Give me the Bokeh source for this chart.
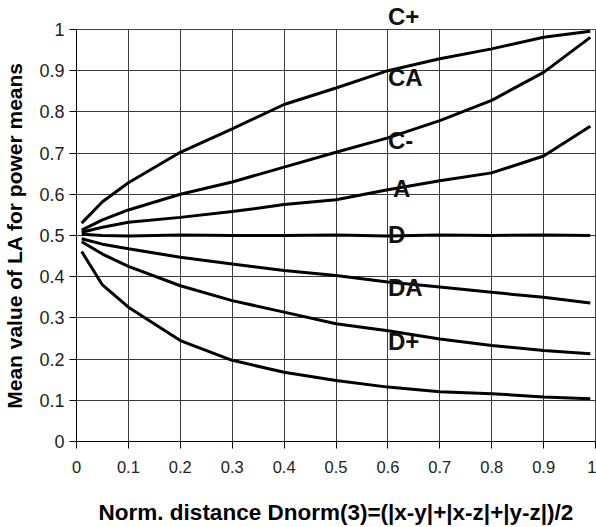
from bokeh.plotting import figure
from bokeh.models import Range1d, FixedTicker, Label
from bokeh.embed import file_html
from bokeh.resources import INLINE

# ---- data ----
x_vals = [0.01, 0.05, 0.1, 0.2, 0.3, 0.4, 0.5, 0.6, 0.7, 0.8, 0.9, 0.99]
curve_c_plus = [0.530, 0.582, 0.628, 0.702, 0.759, 0.818, 0.858, 0.900, 0.929, 0.953, 0.981, 0.996]
curve_ca = [0.513, 0.538, 0.562, 0.600, 0.630, 0.666, 0.702, 0.737, 0.779, 0.828, 0.896, 0.981]
curve_c_minus = [0.508, 0.520, 0.532, 0.544, 0.558, 0.575, 0.587, 0.611, 0.633, 0.652, 0.693, 0.765]
curve_a = [0.503, 0.500, 0.499, 0.501, 0.500, 0.500, 0.501, 0.499, 0.501, 0.500, 0.501, 0.500]
curve_d = [0.492, 0.479, 0.468, 0.447, 0.431, 0.415, 0.403, 0.387, 0.375, 0.362, 0.350, 0.336]
curve_da = [0.485, 0.455, 0.425, 0.378, 0.342, 0.314, 0.286, 0.269, 0.249, 0.233, 0.221, 0.213]
curve_d_plus = [0.461, 0.380, 0.326, 0.245, 0.197, 0.168, 0.148, 0.132, 0.121, 0.116, 0.108, 0.104]
series = [curve_c_plus, curve_ca, curve_c_minus, curve_a, curve_d, curve_da, curve_d_plus]

# curve labels (the first one sits above the frame)
label_texts = ["C+", "CA", "C-", "A", "D", "DA", "D+"]
label_x = [0.6, 0.6, 0.6, 0.61, 0.6, 0.6, 0.6]
label_y = [1.024, 0.883, 0.730, 0.615, 0.502, 0.373, 0.243]

tick_values = [0, 0.1, 0.2, 0.3, 0.4, 0.5, 0.6, 0.7, 0.8, 0.9, 1]
tick_labels = ["0", "0.1", "0.2", "0.3", "0.4", "0.5", "0.6", "0.7", "0.8", "0.9", "1"]

x_title = "Norm. distance Dnorm(3)=(|x-y|+|x-z|+|y-z|)/2"
y_title = "Mean value of LA for power means"

FONT = "Liberation Sans"
W, H = 596, 527
B_LEFT, B_RIGHT, B_TOP, B_BOTTOM = 76, 1, 29, 86
FRAME_W = W - B_LEFT - B_RIGHT

p = figure(width=W, height=H, x_range=Range1d(0, 1), y_range=Range1d(0, 1),
           output_backend="svg", toolbar_location=None,
           min_border_left=B_LEFT, min_border_right=B_RIGHT,
           min_border_top=B_TOP, min_border_bottom=B_BOTTOM)
p.background_fill_color = "white"
p.border_fill_color = "white"
p.outline_line_color = "#444444"
p.outline_line_width = 1

for ax, size in ((p.xaxis[0], "16.5px"), (p.yaxis[0], "18px")):
    ax.ticker = FixedTicker(ticks=tick_values)
    ax.major_label_overrides = {v: s for v, s in zip(tick_values, tick_labels)}
    ax.minor_tick_line_color = None
    ax.major_tick_in = 0
    ax.major_tick_out = 7
    ax.axis_line_color = "black"
    ax.major_tick_line_color = "black"
    ax.major_label_text_font = FONT
    ax.major_label_text_font_size = size
    ax.major_label_text_color = "#222222"
    ax.axis_label_text_font = FONT
    ax.axis_label_text_font_style = "bold"
    ax.axis_label_text_color = "black"

p.xaxis.axis_label = x_title
p.yaxis.axis_label = y_title
p.xaxis.axis_label_text_font_size = "22.5px"
p.yaxis.axis_label_text_font_size = "21px"
p.xaxis.major_label_standoff = 12
p.xaxis.axis_label_standoff = 24
p.yaxis.major_label_standoff = 5
p.yaxis.axis_label_standoff = 10

for g in (p.xgrid[0], p.ygrid[0]):
    g.ticker = FixedTicker(ticks=tick_values)
    g.grid_line_color = "#3a3a3a"
    g.grid_line_width = 1

for ys in series:
    p.line(x_vals, ys, line_color="black", line_width=3)

for t, lx, ly in zip(label_texts, label_x, label_y):
    if ly <= 1:
        lab = Label(x=lx, y=ly, text=t, text_font=FONT, text_font_style="bold",
                    text_font_size="24px", text_color="#111111",
                    text_align="left", text_baseline="middle")
        p.add_layout(lab)
    else:
        # label above the frame: use the plot's title slot, shifted to the label's x
        p.title.text = t
        p.title.align = "left"
        p.title.offset = lx * FRAME_W
        p.title.standoff = 0
        p.title.text_font = FONT
        p.title.text_font_style = "bold"
        p.title.text_font_size = "24px"
        p.title.text_color = "#111111"
        p.title.vertical_align = "bottom"

open("out.html", "w").write(file_html(p, INLINE))
